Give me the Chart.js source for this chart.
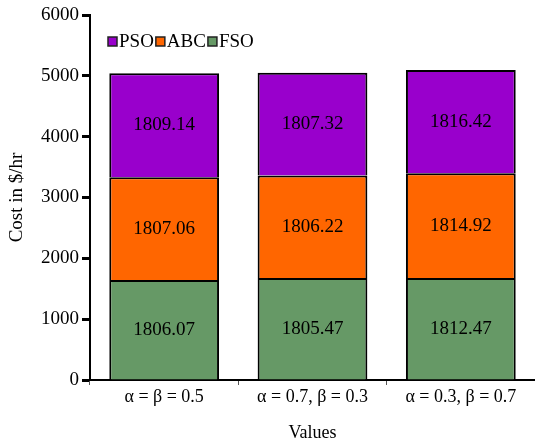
<!DOCTYPE html>
<html>
<head>
<meta charset="utf-8">
<script src="https://cdn.jsdelivr.net/npm/chart.js@4/dist/chart.umd.min.js"></script>
<style>
html,body{margin:0;padding:0;background:#fff;}
#wrap{width:535px;height:444px;}
</style>
</head>
<body>
<div id="wrap"><canvas id="c" width="535" height="444"></canvas></div>
<script>
const categories = ['α = β = 0.5', 'α = 0.7, β = 0.3', 'α = 0.3, β = 0.7'];
const fsoValues = [1645, 1678, 1678];
const abcValues = [1686, 1682, 1722];
const psoValues = [1710, 1689, 1694];
const fsoLabels = ['1806.07', '1805.47', '1812.47'];
const abcLabels = ['1807.06', '1806.22', '1814.92'];
const psoLabels = ['1809.14', '1807.32', '1816.42'];
const yTicks = [0, 1000, 2000, 3000, 4000, 5000, 6000];

const FONT = "'Liberation Serif', 'Times New Roman', serif";

const barLabelPlugin = {
  id: 'barLabels',
  afterDatasetsDraw(chart) {
    const ctx = chart.ctx;
    ctx.save();
    ctx.fillStyle = '#000';
    ctx.font = '19px ' + FONT;
    ctx.textAlign = 'center';
    ctx.textBaseline = 'middle';
    chart.data.datasets.forEach((ds, di) => {
      const meta = chart.getDatasetMeta(di);
      meta.data.forEach((bar, i) => {
        const p = bar.getProps(['x', 'y', 'base'], true);
        ctx.fillText(ds.valueLabels[i], p.x, (p.y + p.base) / 2);
      });
    });
    ctx.restore();
  }
};

const legendPlugin = {
  id: 'customLegend',
  afterDraw(chart) {
    const ctx = chart.ctx;
    ctx.save();
    ctx.font = '19px ' + FONT;
    ctx.textBaseline = 'middle';
    ctx.textAlign = 'left';
    let x = 107;
    const y = 42;
    const dsets = chart.data.datasets.slice().reverse();
    dsets.forEach(ds => {
      ctx.fillStyle = ds.backgroundColor;
      ctx.fillRect(x + 1, y - 5, 9, 9);
      ctx.strokeStyle = '#222';
      ctx.lineWidth = 1.5;
      ctx.strokeRect(x + 1, y - 5, 9, 9);
      x += 12;
      ctx.fillStyle = '#000';
      ctx.fillText(ds.label, x, y);
      x += ctx.measureText(ds.label).width + 1;
    });
    ctx.restore();
  }
};

new Chart(document.getElementById('c'), {
  type: 'bar',
  data: {
    labels: categories,
    datasets: [
      { label: 'FSO', data: fsoValues, valueLabels: fsoLabels, backgroundColor: '#669966', borderColor: '#000', borderWidth: 2 },
      { label: 'ABC', data: abcValues, valueLabels: abcLabels, backgroundColor: '#FF6600', borderColor: '#000', borderWidth: 2 },
      { label: 'PSO', data: psoValues, valueLabels: psoLabels, backgroundColor: '#9900CC', borderColor: '#000', borderWidth: 2 }
    ]
  },
  options: {
    responsive: false,
    animation: false,
    devicePixelRatio: 1,
    layout: { padding: { top: 15, right: 0, left: 0, bottom: 0 } },
    categoryPercentage: 1,
    barPercentage: 0.74,
    plugins: { legend: { display: false }, tooltip: { enabled: false } },
    scales: {
      x: {
        stacked: true,
        grid: { display: true, drawOnChartArea: false, drawTicks: true, tickLength: 5, tickWidth: 1, tickColor: '#555', offset: true },
        border: { display: true, color: '#000', width: 2 },
        ticks: { color: '#000', font: { family: FONT, size: 18 }, padding: 1, maxRotation: 0 },
        title: { display: true, text: 'Values', color: '#000', font: { family: FONT, size: 18 }, padding: { top: 16, bottom: 0 } },
        afterFit(s) { s.height = 64; }
      },
      y: {
        stacked: true,
        min: 0,
        max: 6000,
        afterBuildTicks(s) { s.ticks = yTicks.map(v => ({ value: v })); },
        grid: { display: true, drawOnChartArea: false, drawTicks: true, tickLength: 8, tickWidth: 3, tickColor: '#000' },
        border: { display: true, color: '#000', width: 2 },
        ticks: { color: '#000', font: { family: FONT, size: 19 }, padding: 3, callback: v => String(v) },
        title: { display: true, text: 'Cost in $/hr', color: '#000', font: { family: FONT, size: 19 }, padding: { top: 6, bottom: 0 } },
        afterFit(s) { s.width = 90; }
      }
    }
  },
  plugins: [barLabelPlugin, legendPlugin]
});
</script>
</body>
</html>
